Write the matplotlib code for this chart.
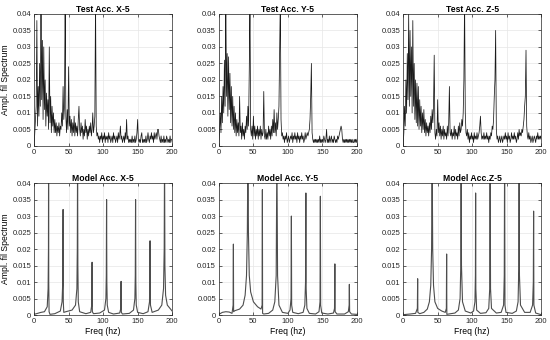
import numpy as np
import matplotlib
matplotlib.use("Agg")
import matplotlib.pyplot as plt

plt.rcParams['font.family'] = ['Liberation Sans', 'DejaVu Sans']

# frequency axis of the measured spectra (1 Hz steps)
freq = np.arange(0, 201)

test_x = [
    0.000, 0.004, 0.008, 0.012, 0.038, 0.006, 0.018, 0.009, 0.025, 0.012,
    0.045, 0.014, 0.032, 0.008, 0.030, 0.011, 0.020, 0.006, 0.016, 0.009,
    0.014, 0.005, 0.030, 0.007, 0.015, 0.004, 0.012, 0.006, 0.010, 0.004,
    0.008, 0.004, 0.007, 0.003, 0.006, 0.004, 0.007, 0.003, 0.006, 0.005,
    0.010, 0.006, 0.018, 0.008, 0.012, 0.045, 0.009, 0.004, 0.011, 0.005,
    0.024, 0.006, 0.009, 0.004, 0.008, 0.003, 0.007, 0.004, 0.009, 0.003,
    0.007, 0.004, 0.006, 0.003, 0.008, 0.012, 0.005, 0.003, 0.007, 0.004,
    0.006, 0.002, 0.005, 0.003, 0.008, 0.004, 0.006, 0.002, 0.005, 0.003,
    0.006, 0.004, 0.007, 0.003, 0.005, 0.010, 0.004, 0.006, 0.009, 0.045,
    0.006, 0.003, 0.004, 0.002, 0.003, 0.001, 0.003, 0.002, 0.004, 0.001,
    0.003, 0.002, 0.004, 0.001, 0.003, 0.002, 0.003, 0.001, 0.004, 0.002,
    0.003, 0.001, 0.002, 0.003, 0.001, 0.004, 0.002, 0.003, 0.001, 0.002,
    0.003, 0.001, 0.004, 0.002, 0.003, 0.006, 0.002, 0.003, 0.001, 0.002,
    0.003, 0.001, 0.004, 0.002, 0.008, 0.002, 0.003, 0.001, 0.002, 0.001,
    0.002, 0.001, 0.003, 0.001, 0.002, 0.001, 0.003, 0.001, 0.002, 0.004,
    0.008, 0.002, 0.001, 0.002, 0.001, 0.003, 0.004, 0.001, 0.002, 0.001,
    0.002, 0.001, 0.003, 0.001, 0.002, 0.004, 0.002, 0.001, 0.003, 0.002,
    0.004, 0.002, 0.003, 0.001, 0.004, 0.002, 0.003, 0.004, 0.002, 0.005,
    0.005, 0.003, 0.002, 0.001, 0.003, 0.001, 0.002, 0.001, 0.003, 0.001,
    0.002, 0.001, 0.003, 0.002, 0.001, 0.002, 0.001, 0.003, 0.001, 0.002,
    0.002,
]

test_y = [
    0.000, 0.005, 0.010, 0.004, 0.015, 0.007, 0.018, 0.010, 0.026, 0.012,
    0.045, 0.015, 0.028, 0.009, 0.027, 0.011, 0.022, 0.007, 0.018, 0.006,
    0.015, 0.005, 0.012, 0.004, 0.010, 0.003, 0.008, 0.004, 0.007, 0.003,
    0.015, 0.004, 0.006, 0.002, 0.007, 0.003, 0.005, 0.002, 0.006, 0.004,
    0.009, 0.005, 0.012, 0.006, 0.023, 0.045, 0.005, 0.003, 0.006, 0.002,
    0.009, 0.003, 0.006, 0.002, 0.005, 0.003, 0.006, 0.002, 0.005, 0.003,
    0.006, 0.002, 0.005, 0.003, 0.004, 0.0165, 0.003, 0.002, 0.005, 0.002,
    0.004, 0.002, 0.006, 0.003, 0.005, 0.002, 0.006, 0.003, 0.008, 0.004,
    0.011, 0.004, 0.007, 0.003, 0.010, 0.005, 0.008, 0.012, 0.0275, 0.045,
    0.008, 0.003, 0.004, 0.002, 0.003, 0.001, 0.003, 0.002, 0.004, 0.001,
    0.002, 0.003, 0.001, 0.002, 0.003, 0.002, 0.004, 0.001, 0.003, 0.002,
    0.004, 0.002, 0.003, 0.001, 0.004, 0.002, 0.003, 0.001, 0.003, 0.002,
    0.004, 0.002, 0.003, 0.001, 0.002, 0.004, 0.002, 0.003, 0.004, 0.003,
    0.004, 0.005, 0.008, 0.015, 0.025, 0.004, 0.002, 0.001, 0.002, 0.001,
    0.002, 0.001, 0.002, 0.001, 0.002, 0.001, 0.003, 0.001, 0.002, 0.001,
    0.002, 0.001, 0.003, 0.002, 0.001, 0.002, 0.005, 0.001, 0.002, 0.001,
    0.003, 0.001, 0.002, 0.003, 0.001, 0.002, 0.001, 0.003, 0.002, 0.001,
    0.002, 0.001, 0.003, 0.002, 0.003, 0.004, 0.005, 0.006, 0.005, 0.002,
    0.001, 0.002, 0.001, 0.002, 0.001, 0.002, 0.001, 0.002, 0.001, 0.002,
    0.001, 0.002, 0.001, 0.002, 0.001, 0.001, 0.002, 0.001, 0.002, 0.001,
    0.002,
]

test_z = [
    0.000, 0.004, 0.012, 0.006, 0.020, 0.010, 0.028, 0.014, 0.040, 0.012,
    0.035, 0.015, 0.030, 0.010, 0.038, 0.012, 0.025, 0.008, 0.020, 0.007,
    0.019, 0.006, 0.018, 0.005, 0.014, 0.006, 0.012, 0.004, 0.010, 0.005,
    0.011, 0.004, 0.008, 0.003, 0.007, 0.004, 0.006, 0.003, 0.007, 0.004,
    0.009, 0.005, 0.011, 0.007, 0.012, 0.0275, 0.004, 0.002, 0.005, 0.003,
    0.014, 0.004, 0.007, 0.003, 0.006, 0.002, 0.005, 0.003, 0.006, 0.002,
    0.005, 0.003, 0.004, 0.002, 0.006, 0.003, 0.007, 0.018, 0.004, 0.003,
    0.005, 0.002, 0.004, 0.003, 0.006, 0.002, 0.005, 0.003, 0.004, 0.002,
    0.006, 0.003, 0.007, 0.004, 0.005, 0.008, 0.006, 0.010, 0.020, 0.045,
    0.010, 0.004, 0.003, 0.005, 0.002, 0.004, 0.001, 0.003, 0.002, 0.004,
    0.002, 0.003, 0.001, 0.004, 0.002, 0.003, 0.002, 0.004, 0.002, 0.003,
    0.004, 0.006, 0.009, 0.004, 0.002, 0.003, 0.002, 0.004, 0.002, 0.003,
    0.002, 0.004, 0.002, 0.003, 0.001, 0.003, 0.002, 0.004, 0.003, 0.006,
    0.005, 0.008, 0.015, 0.020, 0.035, 0.005, 0.002, 0.003, 0.001, 0.002,
    0.003, 0.001, 0.002, 0.003, 0.001, 0.002, 0.003, 0.002, 0.004, 0.002,
    0.003, 0.001, 0.004, 0.002, 0.003, 0.001, 0.002, 0.004, 0.002, 0.003,
    0.002, 0.004, 0.002, 0.003, 0.001, 0.002, 0.004, 0.002, 0.005, 0.003,
    0.004, 0.003, 0.005, 0.004, 0.006, 0.008, 0.012, 0.015, 0.029, 0.006,
    0.003, 0.002, 0.004, 0.002, 0.003, 0.001, 0.002, 0.003, 0.001, 0.002,
    0.003, 0.002, 0.001, 0.003, 0.002, 0.004, 0.002, 0.003, 0.002, 0.003,
    0.002,
]

# model spectra, read as (freq, amplitude) breakpoints
model_x_f = [0, 5, 10, 15, 19, 20.3, 20.8, 21, 21.2, 21.7, 23, 30, 38, 40.5, 41.5, 42, 42.3, 43, 46,
             55, 60, 62, 62.6, 63, 63.4, 64, 66, 75, 82, 83.5, 84, 84.4, 86, 95, 102, 104, 104.6, 105,
             105.4, 106, 108, 115, 124, 125.6, 126, 126.4, 128, 138, 144, 146, 146.6, 147, 147.4, 148,
             150, 158, 165, 167.2, 168, 168.6, 171, 180, 185, 187.5, 188.5, 189, 189.5, 190.5, 193, 200]
model_x_a = [0.0002, 0.0005, 0.0008, 0.001, 0.0025, 0.008, 0.02, 0.05, 0.01, 0.001, 0.0002, 0.0004,
             0.0012, 0.004, 0.01, 0.032, 0.004, 0.0008, 0.001, 0.0015, 0.003, 0.008, 0.02, 0.05, 0.015,
             0.004, 0.001, 0.0004, 0.0008, 0.003, 0.016, 0.001, 0.0004, 0.0006, 0.0015, 0.005, 0.012,
             0.035, 0.01, 0.003, 0.0008, 0.0003, 0.0006, 0.002, 0.0102, 0.0008, 0.0003, 0.0005, 0.0015,
             0.005, 0.012, 0.035, 0.01, 0.003, 0.0008, 0.0004, 0.001, 0.004, 0.0225, 0.003, 0.0008,
             0.0015, 0.003, 0.008, 0.02, 0.05, 0.015, 0.006, 0.003, 0.0012]

model_y_f = [0, 5, 10, 15, 19, 20.6, 21, 21.3, 23, 30, 35, 38, 40, 41.2, 42, 42.8, 44, 46, 50, 56, 61,
             62.6, 63, 63.3, 65, 72, 78, 81, 83, 84, 85, 87, 92, 100, 103, 104.5, 105, 105.4, 107, 115,
             122, 124.5, 125.5, 126, 126.4, 127.5, 131, 140, 145, 146.5, 147, 147.4, 149, 158, 166,
             167.5, 168, 168.4, 171, 182, 187.5, 188.7, 189, 189.4, 192, 200]
model_y_a = [0.0002, 0.0008, 0.001, 0.0009, 0.0005, 0.003, 0.0215, 0.001, 0.0013, 0.0018, 0.003, 0.006,
             0.012, 0.025, 0.05, 0.025, 0.012, 0.007, 0.004, 0.0025, 0.0018, 0.003, 0.038, 0.0005,
             0.0003, 0.0005, 0.0015, 0.004, 0.012, 0.05, 0.012, 0.003, 0.0008, 0.0005, 0.0015, 0.005,
             0.030, 0.003, 0.0008, 0.0004, 0.0008, 0.003, 0.01, 0.037, 0.008, 0.002, 0.0005, 0.0003,
             0.001, 0.004, 0.036, 0.003, 0.0006, 0.0003, 0.0006, 0.002, 0.0155, 0.001, 0.0003, 0.0003,
             0.001, 0.003, 0.0093, 0.001, 0.0003, 0.0002]

model_z_f = [0, 10, 18, 20.6, 21, 21.3, 24, 30, 35, 38, 40, 41.2, 42, 42.8, 44, 46, 50, 56, 61, 62.6,
             63, 63.3, 66, 75, 80, 82.5, 83.5, 84, 84.5, 86, 90, 98, 102, 104, 104.7, 105, 105.3, 106.5,
             112, 120, 124, 125.4, 126, 126.6, 128, 135, 142, 145.5, 146.5, 147, 147.5, 149, 158, 164,
             166.5, 167.5, 168, 168.5, 170, 176, 184, 187.5, 188.6, 189, 189.4, 192, 200]
model_z_a = [0.0001, 0.0003, 0.0005, 0.002, 0.011, 0.0008, 0.0004, 0.0008, 0.0018, 0.004, 0.009, 0.02,
             0.05, 0.02, 0.009, 0.004, 0.002, 0.0012, 0.0008, 0.002, 0.0185, 0.0002, 0.0003, 0.0006,
             0.0015, 0.005, 0.015, 0.05, 0.015, 0.004, 0.0012, 0.0006, 0.0012, 0.004, 0.012, 0.037,
             0.008, 0.0015, 0.0005, 0.0007, 0.002, 0.008, 0.05, 0.008, 0.002, 0.0006, 0.0008, 0.003,
             0.012, 0.05, 0.003, 0.0008, 0.0005, 0.0012, 0.004, 0.014, 0.05, 0.012, 0.003, 0.0008,
             0.0008, 0.003, 0.01, 0.0315, 0.003, 0.0006, 0.0001]

titles = ['Test Acc. X-5', 'Test Acc. Y-5', 'Test Acc. Z-5',
          'Model Acc. X-5', 'Model Acc. Y-5', 'Model Acc.Z-5']
x_ticks = [0, 50, 100, 150, 200]
y_ticks = [0, 0.005, 0.01, 0.015, 0.02, 0.025, 0.03, 0.035, 0.04]
y_labels = ['0', '0.005', '0.01', '0.015', '0.02', '0.025', '0.03', '0.035', '0.04']

series = [
    (freq, test_x), (freq, test_y), (freq, test_z),
    (model_x_f, model_x_a), (model_y_f, model_y_a), (model_z_f, model_z_a),
]

fig = plt.figure(figsize=(5.5, 3.4), dpi=100)
lefts = [0.062, 0.398, 0.733]
bottoms = [0.571, 0.0735]
w, h = 0.251, 0.388

for i, (xs, ys) in enumerate(series):
    row, col = divmod(i, 3)
    ax = fig.add_axes([lefts[col], bottoms[row], w, h])
    if row == 0:
        ax.plot(xs, ys, color='#1a1a1a', lw=0.55)
    else:
        ax.plot(xs, ys, color='#4d4d4d', lw=0.8)
    ax.set_xlim(0, 200)
    ax.set_ylim(0, 0.04)
    ax.set_xticks(x_ticks)
    ax.set_yticks(y_ticks)
    ax.set_yticklabels(y_labels)
    ax.grid(True, color='#e6e6e6', lw=0.5)
    ax.set_axisbelow(True)
    ax.tick_params(direction='in', length=2, width=0.5, labelsize=5.5,
                   colors='#262626', top=True, right=True, pad=2)
    for s in ax.spines.values():
        s.set_linewidth(0.5)
        s.set_color('#262626')
    ax.set_title(titles[i], fontsize=6.2, fontweight='bold', pad=1.5)
    if col == 0:
        ax.set_ylabel('Ampl. fil Spectrum', fontsize=6.2, labelpad=2)
    if row == 1:
        ax.set_xlabel('Freq (hz)', fontsize=6.2, labelpad=1.5)

fig.savefig('out.png', dpi=100)
